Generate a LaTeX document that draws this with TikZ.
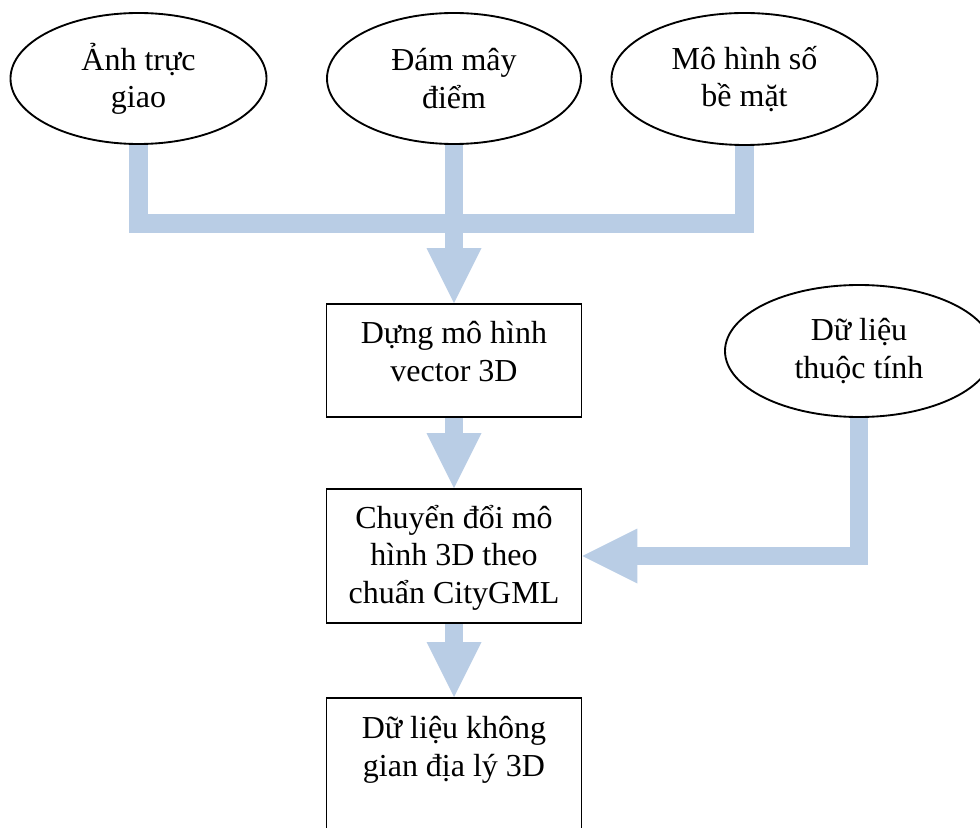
\documentclass[tikz,border=0pt]{standalone}
\usepackage{fontspec}
\setmainfont{Liberation Serif}
\usetikzlibrary{shapes.geometric,arrows.meta,backgrounds}
\definecolor{flowblue}{RGB}{185,205,229}

\begin{document}
\begin{tikzpicture}[x=0.75pt,y=0.75pt,yscale=-1,xscale=1,
  src/.style={ellipse,draw,line width=1.4pt,fill=white,inner sep=0pt,align=center,font=\fontsize{24}{28}\selectfont},
  stepbox/.style={rectangle,draw,line width=1.4pt,fill=white,minimum width=191.25pt},
  boxtext/.style={anchor=base,align=center,inner sep=0pt,font=\fontsize{24}{28}\selectfont},
  pipe/.style={draw=flowblue,line width=14pt,line join=miter},
  fatarrow/.style={pipe,-{Triangle[width=41.25pt,length=41.25pt,line width=0pt]}}]
\useasboundingbox (0,0) rectangle (980,827);

%Shape: Ellipse [sources]
\node[src,minimum width=192pt,minimum height=98.25pt] (anh) at (138.5,78.5) {Ảnh trực\\giao};
\node[src,minimum width=190.5pt,minimum height=98.25pt] (dam) at (454,78.5) {Đám mây\\điểm};
\node[src,minimum width=199.5pt,minimum height=99pt] (mhs) at (744.5,79) {Mô hình số\\bề mặt};
\node[src,minimum width=201pt,minimum height=99pt] (thuoc) at (859,351) {Dữ liệu\\thuộc tính};

%Shape: Rectangle [steps]
\node[stepbox,minimum height=84.75pt] (dung) at (454,360.5) {};
\node[stepbox,minimum height=100.5pt] (chuyen) at (454,556) {};
\node[stepbox,minimum height=105pt,anchor=north] (geo) at (454,697) {};

% Text Node (base = last line)
\node[boxtext] (dungtxt) at (454,381) {Dựng mô hình\\vector 3D};
\node[boxtext] (chuyentxt) at (454,603) {Chuyển đổi mô\\hình 3D theo\\chuẩn CityGML};
\node[boxtext] (geotxt) at (454,776) {Dữ liệu không\\gian địa lý 3D};

%Block arrows
\coordinate (bar) at (454,223.5);
\begin{scope}[on background layer]
\draw[pipe] (anh.south) |- (bar) -| (mhs.south);
\draw[fatarrow] (dam.south) -- (dung.north);
\draw[fatarrow] (dung.south) -- (chuyen.north);
\draw[fatarrow] (chuyen.south) -- (geo.north);
\draw[fatarrow] (thuoc.south) |- (chuyen.east);
\end{scope}

\end{tikzpicture}
\end{document}
